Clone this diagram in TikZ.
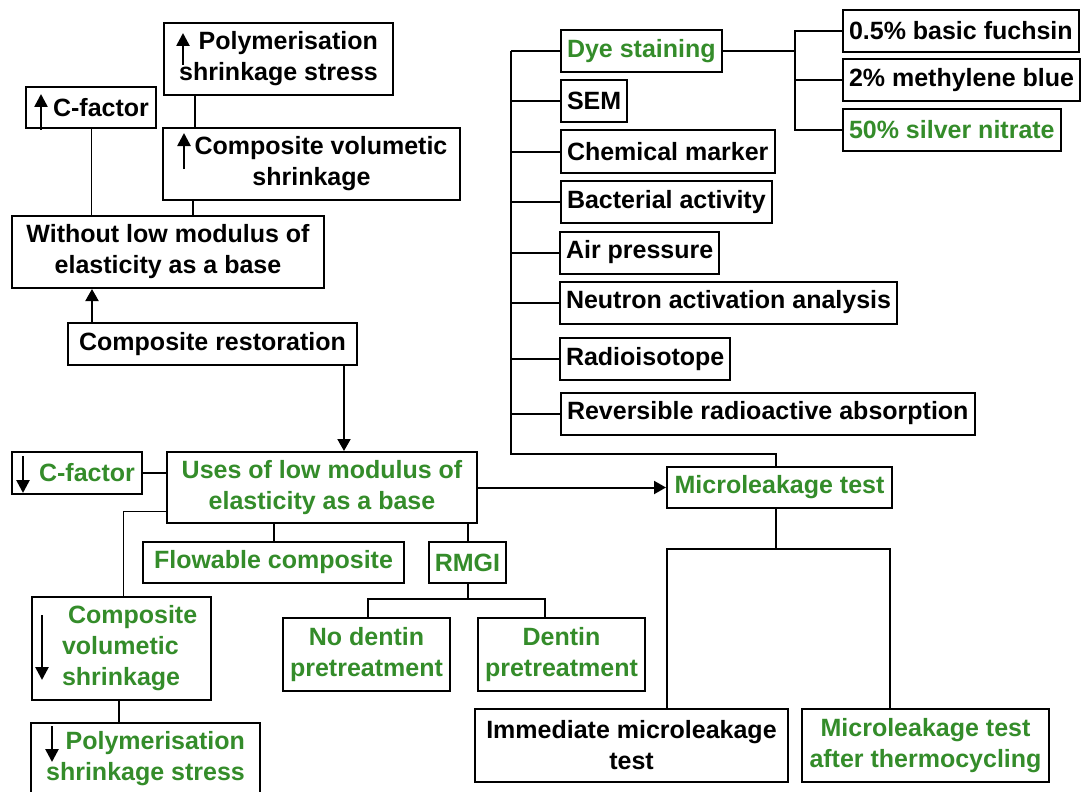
\documentclass[tikz,border=0pt]{standalone}
\usepackage{fontspec}
\setmainfont{Liberation Sans}
\usetikzlibrary{arrows.meta}
\definecolor{leafgreen}{RGB}{52,140,42}
\tikzstyle{box}=[draw,line width=1pt,font=\fontsize{12.5}{15.5}\selectfont\bfseries,inner sep=3pt,minimum height=21pt]
\tikzstyle{gbox}=[box,text=leafgreen]
\tikzstyle{item}=[box,anchor=west]
\tikzstyle{link}=[line width=1pt]
\tikzstyle{faint}=[line width=0.5pt]
\tikzstyle{flow}=[line width=1pt,-{Triangle[length=6pt,width=6.5pt]}]
\tikzstyle{trend}=[line width=1.3pt,-{Triangle[length=6.5pt,width=6.5pt]}]

\begin{document}
\begin{tikzpicture}[x=0.5pt,y=-0.5pt]
		\useasboundingbox (0,0) rectangle (1081,792);
		% left side
		\node[box,minimum width=114.5pt,minimum height=36pt,align=right] (pu) at (278.5,59) {Polymerisation\\shrinkage stress};
		\node[box,minimum width=65pt,minimum height=20.5pt] (cu) at (91,107.5) {\hspace*{10pt}C-factor};
		\node[box,minimum width=148.5pt,minimum height=36pt,align=center] (vu) at (311.5,164) {\hspace*{9.5pt}Composite volumetic\\shrinkage};
		\node[box,minimum width=156pt,minimum height=36pt,align=center] (wo) at (168,252) {Without low modulus of\\elasticity as a base};
		\node[box,minimum width=144.5pt] (cr) at (212.5,344) {Composite restoration};
		\node[gbox,minimum width=65pt] (cd) at (77,473) {\hspace*{10pt}C-factor};
		\node[gbox,minimum width=155pt,minimum height=35.5pt,align=center] (us) at (322,487.5) {Uses of low modulus of\\elasticity as a base};
		\node[gbox,minimum width=130.5pt,minimum height=20.5pt] (fc) at (273.5,562.5) {Flowable composite};
		\node[gbox,minimum width=38.5pt,minimum height=20.5pt] (rm) at (467.5,562.5) {RMGI};
		\node[gbox,minimum width=83.5pt,minimum height=36.5pt,align=center] (nd) at (366.5,654.5) {No dentin\\pretreatment};
		\node[gbox,minimum width=83.5pt,minimum height=36.5pt,align=center] (dp) at (561.5,654.5) {Dentin\\pretreatment};
		\node[gbox,minimum width=89.5pt,minimum height=51.5pt,text width=59.5pt,align=left] (vd) at (121.5,648.5) {\hspace*{3pt}\mbox{Composite}\\volumetic\\shrinkage};
		\node[gbox,minimum width=114.5pt,minimum height=36pt,align=right] (pd) at (145.5,759) {Polymerisation\\shrinkage stress};
		% right side
		\node[gbox,minimum width=112.5pt,minimum height=20.5pt] (ml) at (779.5,487.5) {Microleakage test};
		\node[box,minimum width=156.5pt,minimum height=36.5pt,align=center] (im) at (631.5,745.5) {Immediate microleakage\\test};
		\node[gbox,minimum width=123.5pt,minimum height=36.5pt,align=center] (tc) at (925.5,745.5) {Microleakage test\\after thermocycling};
		\node[gbox,item] (ds) at (560,51) {Dye staining};
		\node[box,item] (se) at (560,101) {SEM};
		\node[box,item] (cm) at (560,151.5) {Chemical marker};
		\node[box,item] (ba) at (560,202) {Bacterial activity};
		\node[box,item] (ap) at (559,252.5) {Air pressure};
		\node[box,item] (na) at (559,302.5) {Neutron activation analysis};
		\node[box,item] (ri) at (559,359) {Radioisotope};
		\node[box,item] (rr) at (560,413.5) {Reversible radioactive absorption};
		\node[box,item] (bf) at (842,31) {0.5\% basic fuchsin};
		\node[box,item] (mb) at (842,80.5) {2\% methylene blue};
		\node[gbox,item] (sn) at (842,130) {50\% silver nitrate};
		% up and down marks
		\draw[trend] (183,65) -- (183,33);
		\draw[trend] (41,130) -- (41,94);
		\draw[trend] (184,169) -- (184,133);
		\draw[trend] (23,456) -- (23,493);
		\draw[trend] (42,615) -- (42,680);
		\draw[trend] (52,726) -- (52,762);
		% connectors
		\draw[faint] (cu.south) -- (cu.south |- wo.north);
		\draw[link] (pu.south -| 195,0) -- (vu.north -| 195,0);
		\draw[link] (vu.south -| 193,0) -- (wo.north -| 193,0);
		\draw[flow] (cr.north -| 92,0) -- (wo.south -| 92,0);
		\draw[flow] (cr.south -| 344,0) -- (us.north -| 344,0);
		\draw[link] (cd.east) -- (cd.east -| us.west);
		\draw[faint] (us.west |- 0,511) -| (vd.north -| 123,0);
		\draw[link] (vd.south -| 119,0) -- (pd.north -| 119,0);
		\draw[link] (us.south -| fc.north) -- (fc.north);
		\draw[link] (us.south -| rm.north) -- (rm.north);
		\draw[link] (rm.south) -- (rm.south |- 0,599);
		\draw[link] (nd.north -| 368,0) -- (368,599) -- (545,599) -- (dp.north -| 545,0);
		\draw[flow] (us.east |- ml.west) -- (ml.west);
		\draw[link] (ml.south -| 776,0) -- (776,549);
		\draw[link] (im.north -| 667,0) -- (667,549) -- (890,549) -- (tc.north -| 890,0);
		\draw[link] (ds.west -| 511,0) -- (511,454) -| (ml.north -| 776,0);
		\foreach \n in {ds,se,cm,ba,ap,na,ri,rr}
			\draw[link] (\n.west -| 511,0) -- (\n.west);
		\draw[link] (ds.east) -- (ds.east -| 795,0);
		\draw[link] (bf.west) -- (bf.west -| 795,0) -- (sn.west -| 795,0) -- (sn.west);
		\draw[link] (mb.west) -- (mb.west -| 795,0);
\end{tikzpicture}
\end{document}
